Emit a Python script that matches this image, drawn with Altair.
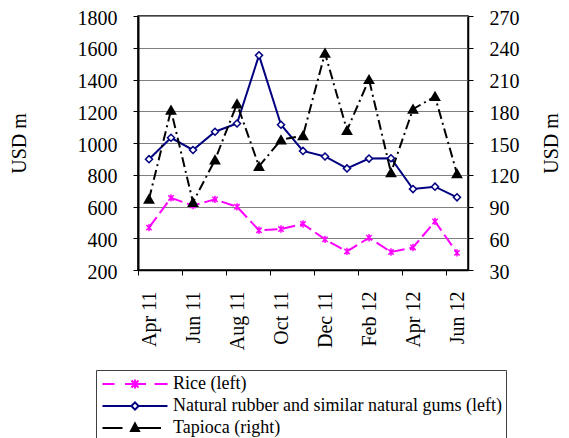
import altair as alt
import pandas as pd

months = ["Apr 11", "May 11", "Jun 11", "Jul 11", "Aug 11", "Sep 11", "Oct 11", "Nov 11",
          "Dec 11", "Jan 12", "Feb 12", "Mar 12", "Apr 12", "May 12", "Jun 12"]
rice = [467, 654, 606, 645, 598, 450, 458, 490, 393, 317, 403, 313, 342, 506, 308]
rubber = [898, 1033, 956, 1071, 1123, 1552, 1115, 950, 915, 840, 902, 904, 710, 725, 658]
tapioca = [97, 181, 94, 134, 187, 128, 153, 157, 235, 162, 210, 122, 182, 194, 121]
tick_labels = ["Apr 11", "Jun 11", "Aug 11", "Oct 11", "Dec 11", "Feb 12", "Apr 12", "Jun 12"]
series_names = ["Rice (left)", "Natural rubber and similar natural gums (left)", "Tapioca (right)"]
series_colors = ["#FF00FF", "#000080", "#000000"]
series_fills = ["#FF00FF", "#FFFFFF", "#000000"]

FONT = "Times New Roman, Liberation Serif, serif"
AX_FS = 20

df = pd.DataFrame({
    "idx": list(range(len(months))),
    "month": months,
    "rice": rice,
    "rubber": rubber,
    "tapioca": tapioca,
})

label_expr = "[" + ",".join("'%s'" % t for t in tick_labels) + "][round((datum.value + 0.5) / 2)]"
x_enc = alt.X(
    "idx:Q",
    scale=alt.Scale(domain=[-0.5, len(months) - 0.5], nice=False, zero=False),
    axis=alt.Axis(
        values=[-0.5 + 2 * i for i in range(len(tick_labels))],
        labelExpr=label_expr,
        labelAngle=270,
        labelOffset=11,
        labelPadding=16,
        labelFont=FONT,
        labelFontSize=AX_FS,
        labelColor="#000000",
        tickSize=5,
        grid=False,
        title=None,
        domainColor="#000000",
        domainWidth=1.5,
        tickColor="#000000",
    ),
)

left_axis = alt.Axis(
    values=list(range(200, 1801, 200)),
    format="d",
    orient="left",
    grid=True,
    gridColor="#808080",
    gridWidth=1,
    title="USD m",
    titlePadding=48,
    titleFont=FONT,
    titleFontSize=AX_FS,
    titleFontWeight="normal",
    titleColor="#000000",
    labelFont=FONT,
    labelFontSize=AX_FS,
    labelColor="#000000",
    tickSize=5,
    labelPadding=16,
    labelOffset=2,
    domainColor="#000000",
    domainWidth=2,
    tickColor="#000000",
)
left_scale = alt.Scale(domain=[200, 1800], nice=False, zero=False)

right_axis = alt.Axis(
    values=list(range(30, 271, 30)),
    format="d",
    orient="right",
    grid=False,
    title="USD m",
    titleAngle=270,
    titlePadding=42,
    titleFont=FONT,
    titleFontSize=AX_FS,
    titleFontWeight="normal",
    titleColor="#000000",
    labelFont=FONT,
    labelFontSize=AX_FS,
    labelColor="#000000",
    tickSize=5,
    labelPadding=16,
    labelOffset=2,
    domainColor="#000000",
    domainWidth=1.5,
    tickColor="#000000",
)
right_scale = alt.Scale(domain=[30, 270], nice=False, zero=False)

base = alt.Chart(df)

star_path = "M-0.8,-0.8L0.8,0.8M-0.8,0.8L0.8,-0.8M0,-1.1V1.1"

rice_line = base.mark_line(color="#FF00FF", strokeWidth=2, strokeDash=[13, 5]).encode(
    x=x_enc, y=alt.Y("rice:Q", scale=left_scale, axis=left_axis))
rice_pts = base.mark_point(shape=star_path, size=45, stroke="#FF00FF", strokeWidth=1.5,
                           opacity=1, filled=False).encode(
    x=x_enc, y=alt.Y("rice:Q", scale=left_scale, axis=left_axis))
rubber_line = base.mark_line(color="#000080", strokeWidth=2).encode(
    x=x_enc, y=alt.Y("rubber:Q", scale=left_scale, axis=left_axis))
rubber_pts = base.mark_point(shape="diamond", size=50, stroke="#000080", fill="#FFFFFF",
                             strokeWidth=1.5, opacity=1, filled=False, fillOpacity=1).encode(
    x=x_enc, y=alt.Y("rubber:Q", scale=left_scale, axis=left_axis))

# legend glyphs (line + marker), written in pixels around the glyph centre,
# then scaled to the symbol's unit box (radius R px)
SYM = 18
R = SYM / 2.0


def glyph(parts):
    out = []
    for cmd, pts in parts:
        out.append(cmd + ",".join("%.3f" % (v / R) for v in pts))
    return "".join(out)


glyphs = [
    glyph([("M", (-32.5, 0)), ("H", (-20.5,)), ("M", (-10, 0)), ("H", (11,)),
           ("M", (19.5, 0)), ("H", (32.5,)),
           ("M", (-3.5, -3.5)), ("L", (3.5, 3.5)), ("M", (-3.5, 3.5)), ("L", (3.5, -3.5)),
           ("M", (0, -4.5)), ("V", (4.5,))]),
    glyph([("M", (-32.5, 0)), ("H", (-3.6,)), ("M", (3.6, 0)), ("H", (32.5,)),
           ("M", (0, -3.6)), ("L", (3.6, 0)), ("L", (0, 3.6)), ("L", (-3.6, 0)), ("Z", ())]),
    glyph([("M", (-32.5, 0)), ("H", (-12.5,)), ("M", (-1.5, 0)), ("H", (26,)),
           ("M", (0, -4.5)), ("L", (4, 3)), ("L", (-4, 3)), ("Z", ())]),
]
legend = alt.Legend(
    title=None,
    orient="none",
    legendX=-42,
    legendY=354,
    symbolSize=SYM * SYM,
    symbolStrokeWidth=2,
    symbolOpacity=1,
    symbolOffset=25,
    labelFont=FONT,
    labelFontSize=18,
    labelColor="#000000",
    labelOffset=28,
    rowPadding=3,
    padding=4,
    strokeColor="#404040",
    fillColor="#FFFFFF",
    labelLimit=600,
)
legend_layer = alt.Chart(pd.DataFrame({"series": series_names})).mark_point(
    opacity=1, filled=False).transform_filter("false").encode(
    shape=alt.Shape("series:N", scale=alt.Scale(domain=series_names, range=glyphs), legend=legend),
    stroke=alt.Stroke("series:N", scale=alt.Scale(domain=series_names, range=series_colors), legend=legend),
    fill=alt.Fill("series:N", scale=alt.Scale(domain=series_names, range=series_fills), legend=legend),
)

left = alt.layer(rice_line, rice_pts, rubber_line, rubber_pts, legend_layer)

tap_line = base.mark_line(color="#000000", strokeWidth=2, strokeDash=[10, 4, 2, 4]).encode(
    x=x_enc, y=alt.Y("tapioca:Q", scale=right_scale, axis=right_axis))
tap_pts = base.mark_point(shape="triangle-up", size=70, fill="#000000", stroke="#000000",
                          opacity=1, filled=True).encode(
    x=x_enc, y=alt.Y("tapioca:Q", scale=right_scale, axis=right_axis))
right = alt.layer(tap_line, tap_pts)

chart = alt.layer(left, right).resolve_scale(
    y="independent", shape="independent", stroke="independent", fill="independent"
).properties(
    width=330,
    height=254,
    padding={"left": 130, "top": 8, "right": 93, "bottom": 168},
    autosize=alt.AutoSizeParams(type="none"),
).configure_view(
    stroke="#000000", strokeWidth=1.5
).configure_axis(
    labelFont=FONT, labelFontSize=AX_FS, labelColor="#000000",
    titleFont=FONT, titleFontSize=AX_FS, titleFontWeight="normal", titleColor="#000000",
).configure_legend(
    strokeColor="#404040", strokeWidth=1, fillColor="#FFFFFF",
    labelFont=FONT,
)

chart.save("out.html", embed_options={"renderer": "svg", "actions": False})
